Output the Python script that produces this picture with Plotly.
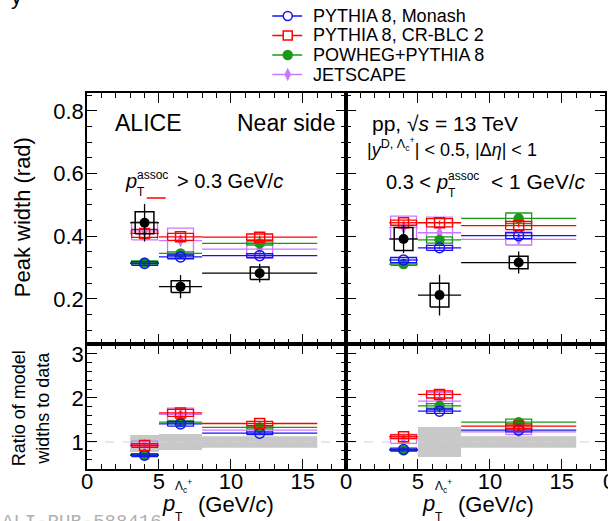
import plotly.graph_objects as go

# ---------------- data ----------------
bin_lo = [3, 5, 8]
bin_hi = [5, 8, 16]
pt_mid = [4.0, 6.5, 12.0]

# ALICE near-side peak widths (rad), p_T^assoc > 0.3 GeV/c
data_all = [0.443, 0.239, 0.282]
data_all_stat = [0.060, 0.037, 0.030]
data_all_syst = [0.035, 0.019, 0.020]
# ALICE near-side peak widths (rad), 0.3 < p_T^assoc < 1 GeV/c
data_low = [0.391, 0.212, 0.316]
data_low_stat = [0.045, 0.065, 0.035]
data_low_syst = [0.037, 0.038, 0.020]

# model peak widths, p_T^assoc > 0.3
monash_all = [0.313, 0.334, 0.338]
crblc_all = [0.409, 0.398, 0.397]
powheg_all = [0.316, 0.345, 0.377]
jetscape_all = [0.417, 0.386, 0.359]
monash_all_unc = [0.006, 0.006, 0.006]
crblc_all_unc = [0.013, 0.011, 0.010]
powheg_all_unc = [0.005, 0.005, 0.005]
jetscape_all_unc = [0.029, 0.040, 0.030]

# model peak widths, 0.3 < p_T^assoc < 1
monash_low = [0.324, 0.363, 0.402]
crblc_low = [0.443, 0.443, 0.434]
powheg_low = [0.311, 0.388, 0.457]
jetscape_low = [0.428, 0.411, 0.390]
monash_low_unc = [0.008, 0.008, 0.010]
crblc_low_unc = [0.008, 0.013, 0.013]
powheg_low_unc = [0.004, 0.010, 0.017]
jetscape_low_unc = [0.036, 0.050, 0.018]

# model / data ratios, p_T^assoc > 0.3
monash_all_ratio = [0.70, 1.41, 1.20]
crblc_all_ratio = [0.92, 1.66, 1.42]
powheg_all_ratio = [0.71, 1.45, 1.33]
jetscape_all_ratio = [0.95, 1.63, 1.27]
monash_all_ratio_unc = [0.03, 0.05, 0.03]
crblc_all_ratio_unc = [0.04, 0.08, 0.05]
powheg_all_ratio_unc = [0.02, 0.03, 0.03]
jetscape_all_ratio_unc = [0.07, 0.14, 0.09]

# model / data ratios, 0.3 < p_T^assoc < 1
monash_low_ratio = [0.83, 1.70, 1.27]
crblc_low_ratio = [1.12, 2.08, 1.36]
powheg_low_ratio = [0.81, 1.82, 1.45]
jetscape_low_ratio = [1.07, 1.93, 1.23]
monash_low_ratio_unc = [0.03, 0.05, 0.04]
crblc_low_ratio_unc = [0.04, 0.08, 0.05]
powheg_low_ratio_unc = [0.02, 0.05, 0.07]
jetscape_low_ratio_unc = [0.10, 0.20, 0.06]

# relative data uncertainty band around unity
band_all_lo = [0.77, 0.82, 0.87]
band_all_hi = [1.16, 1.18, 1.13]
band_low_lo = [None, 0.66, 0.87]
band_low_hi = [None, 1.34, 1.13]

model_names = ["PYTHIA\u20098, Monash", "PYTHIA\u20098, CR-BLC 2", "POWHEG+PYTHIA\u20098", "JETSCAPE"]

# ---------------- style ----------------
FONT = "Liberation Sans, Arial, Helvetica, sans-serif"
BLUE, RED, GREEN, VIOLET = "#1414f0", "#ff0000", "#189a18", "#cc77ff"
MODEL_STYLE = [  # colour, symbol, size
    (BLUE, "circle-open", 10),
    (RED, "square-open", 10),
    (GREEN, "circle", 9),
    (VIOLET, "diamond-tall", 7),
]
MODEL_BOX_HW = 0.9
DATA_BOX_HW = 0.65

W, H = 608, 521
ML, MR, MT, MB = 87, 1, 93, 52
PW, PH = W - ML - MR, H - MT - MB
SPLIT = 344
YB = (H - MB - SPLIT) / PH


def px(x):
    return (x - ML) / PW


def py(y):
    return (H - MB - y) / PH


fig = go.Figure()


def boxes(xc, yc, hw, hh):
    xs, ys = [], []
    for x, y, h in zip(xc, yc, hh):
        xs += [x - hw, x + hw, x + hw, x - hw, x - hw, None]
        ys += [y - h, y - h, y + h, y + h, y - h, None]
    return xs, ys


def err_x():
    return dict(
        type="data", symmetric=False,
        array=[h - m for h, m in zip(bin_hi, pt_mid)],
        arrayminus=[m - l for l, m in zip(bin_lo, pt_mid)],
        width=0,
    )


def add_band(xa, ya, lo, hi):
    xs, ys = [], []
    for l, h, a, b in zip(bin_lo, bin_hi, lo, hi):
        if a is None:
            continue
        xs += [l, h, h, l, l, None]
        ys += [a, a, b, b, a, None]
    fig.add_trace(go.Scatter(x=xs, y=ys, mode="lines", fill="toself", fillcolor="#c8c8c8",
                             line=dict(width=0, color="#c8c8c8"), xaxis=xa, yaxis=ya,
                             showlegend=False, hoverinfo="skip"))
    fig.add_trace(go.Scatter(x=[0, 18], y=[1, 1], mode="lines",
                             line=dict(color="#d0d0d0", width=1, dash="dash"),
                             xaxis=xa, yaxis=ya, showlegend=False, hoverinfo="skip"))


def add_model(xa, ya, vals, unc, style):
    color, symbol, size = style
    bx, by = boxes(pt_mid, vals, MODEL_BOX_HW, unc)
    fig.add_trace(go.Scatter(x=bx, y=by, mode="lines", line=dict(color=color, width=1.3),
                             xaxis=xa, yaxis=ya, showlegend=False, hoverinfo="skip"))
    ex = err_x()
    ex.update(thickness=1.3, color=color)
    fig.add_trace(go.Scatter(
        x=pt_mid, y=vals, mode="markers",
        marker=dict(symbol=symbol, size=size, color=color, line=dict(color=color, width=1.5)),
        error_x=ex,
        error_y=dict(type="data", array=[u * 0.5 for u in unc], width=0, thickness=1.3, color=color),
        xaxis=xa, yaxis=ya, showlegend=False, hoverinfo="skip"))


def add_data(xa, ya, vals, stat, syst):
    bx, by = boxes(pt_mid, vals, DATA_BOX_HW, syst)
    fig.add_trace(go.Scatter(x=bx, y=by, mode="lines", line=dict(color="black", width=1.5),
                             xaxis=xa, yaxis=ya, showlegend=False, hoverinfo="skip"))
    ex = err_x()
    ex.update(thickness=1.3, color="black")
    fig.add_trace(go.Scatter(
        x=pt_mid, y=vals, mode="markers",
        marker=dict(symbol="circle", size=10, color="black"),
        error_x=ex,
        error_y=dict(type="data", array=stat, width=0, thickness=1.3, color="black"),
        xaxis=xa, yaxis=ya, showlegend=False, hoverinfo="skip"))


# ratio bands
add_band("x", "y", band_all_lo, band_all_hi)
add_band("x2", "y2", band_low_lo, band_low_hi)

draw_order = [3, 2, 0, 1]  # JETSCAPE, POWHEG, Monash, CR-BLC
panels = [
    ("x3", "y3", [monash_all, crblc_all, powheg_all, jetscape_all],
     [monash_all_unc, crblc_all_unc, powheg_all_unc, jetscape_all_unc]),
    ("x4", "y4", [monash_low, crblc_low, powheg_low, jetscape_low],
     [monash_low_unc, crblc_low_unc, powheg_low_unc, jetscape_low_unc]),
    ("x", "y", [monash_all_ratio, crblc_all_ratio, powheg_all_ratio, jetscape_all_ratio],
     [monash_all_ratio_unc, crblc_all_ratio_unc, powheg_all_ratio_unc, jetscape_all_ratio_unc]),
    ("x2", "y2", [monash_low_ratio, crblc_low_ratio, powheg_low_ratio, jetscape_low_ratio],
     [monash_low_ratio_unc, crblc_low_ratio_unc, powheg_low_ratio_unc, jetscape_low_ratio_unc]),
]
for xa, ya, vals, uncs in panels:
    for k in draw_order:
        add_model(xa, ya, vals[k], uncs[k], MODEL_STYLE[k])

add_data("x3", "y3", data_all, data_all_stat, data_all_syst)
add_data("x4", "y4", data_low, data_low_stat, data_low_syst)

# ---------------- axes ----------------
tick = dict(family=FONT, size=22, color="black")
base_ax = dict(showline=True, linecolor="black", linewidth=1.5, mirror="ticks",
               ticks="inside", ticklen=10, tickwidth=1.2, tickcolor="black",
               showgrid=False, zeroline=False, tickfont=tick)


def xax(domain, anchor, labels):
    d = dict(base_ax)
    d.update(domain=domain, anchor=anchor, range=[0, 18], tick0=0, dtick=5,
             showticklabels=labels, ticklabelstandoff=-8,
             minor=dict(dtick=1, ticks="inside", ticklen=5, tickwidth=1.2, tickcolor="black"))
    return d


def yax(domain, anchor, rng, dtick, mdtick, labels, fmt):
    d = dict(base_ax)
    d.update(domain=domain, anchor=anchor, range=rng, tick0=0, dtick=dtick,
             showticklabels=labels, tickformat=fmt, ticklabelstandoff=-3,
             minor=dict(dtick=mdtick, ticks="inside", ticklen=5, tickwidth=1.2, tickcolor="black"))
    return d


TOP_RANGE = [0.056, 0.857]
RATIO_RANGE = [0.386, 3.227]

fig.update_layout(
    xaxis=xax([0, 0.5], "y", True),
    xaxis2=xax([0.5, 1], "y2", True),
    xaxis3=xax([0, 0.5], "y3", False),
    xaxis4=xax([0.5, 1], "y4", False),
    yaxis=yax([0, YB], "x", RATIO_RANGE, 1, 0.2, True, "d"),
    yaxis2=yax([0, YB], "x2", RATIO_RANGE, 1, 0.2, False, "d"),
    yaxis3=yax([YB, 1], "x3", TOP_RANGE, 0.2, 0.05, True, ".1f"),
    yaxis4=yax([YB, 1], "x4", TOP_RANGE, 0.2, 0.05, False, ".1f"),
)

# ---------------- text ----------------
ann = []
shapes = []


def label(x, base, text, size, anchor="left", color="black", family=FONT):
    ann.append(dict(x=px(x), y=py(base - 0.35 * size), xref="paper", yref="paper",
                    text=text, showarrow=False, xanchor=anchor, yanchor="middle",
                    borderpad=0, font=dict(size=size, color=color, family=family)))


def pt_symbol(x, base, sup, size, sub_size):
    label(x, base, "<i>p</i>", size)
    sx = x + 0.6 * size
    label(sx, base - 0.45 * size, sup, sub_size)
    label(sx, base + 0.42 * size, "T", sub_size)


# left top panel
label(114, 131, "ALICE", 23)
label(337, 131, "Near side", 23, anchor="right")
pt_symbol(124, 188, "assoc", 20, 12)
label(176, 188, "&gt; 0.3 GeV/<i>c</i>", 20)
shapes.append(dict(type="line", xref="paper", yref="paper", x0=px(147), x1=px(166),
                   y0=py(198), y1=py(198), line=dict(color=RED, width=1.5)))

# right top panel
label(372, 131, "pp, \u221a<i>s</i> = 13 TeV", 21)
label(367, 154, "|<i>y</i><sup>D, \u039b<sub>c</sub><sup>+</sup></sup>| &lt; 0.5, |\u0394<i>\u03b7</i>| &lt; 1", 18)
label(386, 189, "0.3 &lt;", 20)
pt_symbol(436, 189, "assoc", 20, 12)
label(492, 189, "&lt; 1 GeV/<i>c</i>", 21)

# x-axis titles
for x0 in (161, 422):
    label(x0, 511, "<i>p</i>", 22)
    label(x0 + 13, 490, "\u039b<sub>c</sub><sup>+</sup>", 12)
    label(x0 + 13, 521, "T", 12)
    label(x0 + 36, 512, "(GeV/<i>c</i>)", 22)

# y-axis titles
ann.append(dict(x=px(22), y=py(217), xref="paper", yref="paper", text="Peak width (rad)",
                showarrow=False, textangle=-90, xanchor="center", yanchor="middle",
                font=dict(size=22, family=FONT, color="black")))
ann.append(dict(x=px(30), y=py(408), xref="paper", yref="paper",
                text="Ratio of model<br>widths to data",
                showarrow=False, textangle=-90, xanchor="center", yanchor="middle",
                font=dict(size=18, family=FONT, color="black")))

# edge labels of the neighbouring page content
label(163, 529, "ALI-PUB-588416", 19, anchor="right", color="#b0b0b0",
      family="Liberation Mono, Courier New, monospace")
label(611, 489, "0", 22, anchor="center")
label(16, 4, "y", 22, anchor="center")

# ---------------- legend ----------------
legend_rows = [16, 35.5, 55, 74.5]
for (color, symbol, size), name, row in zip(MODEL_STYLE, model_names, legend_rows):
    shapes.append(dict(type="line", xref="paper", yref="paper", x0=px(273), x1=px(303),
                       y0=py(row), y1=py(row), line=dict(color=color, width=1.5)))
    r = 4.5
    common = dict(xref="paper", yref="paper", xsizemode="pixel", ysizemode="pixel",
                  xanchor=px(288.5), yanchor=py(row), line=dict(color=color, width=1.5))
    if symbol == "circle-open":
        shapes.append(dict(type="circle", x0=-r, x1=r, y0=-r, y1=r, fillcolor="white", **common))
    elif symbol == "square-open":
        shapes.append(dict(type="rect", x0=-r, x1=r, y0=-r, y1=r, fillcolor="white", **common))
    elif symbol == "circle":
        shapes.append(dict(type="circle", x0=-r, x1=r, y0=-r, y1=r, fillcolor=color, **common))
    else:
        shapes.append(dict(type="path", path="M0,-5 L2.5,0 L0,5 L-2.5,0 Z", fillcolor=color, **common))
    label(313, row + 6.3, name, 18)

fig.update_layout(
    width=W, height=H,
    margin=dict(l=ML, r=MR, t=MT, b=MB, pad=0),
    paper_bgcolor="white", plot_bgcolor="white",
    showlegend=False,
    annotations=ann, shapes=shapes,
    font=dict(family=FONT, color="black"),
)

fig.write_html("out.html")
